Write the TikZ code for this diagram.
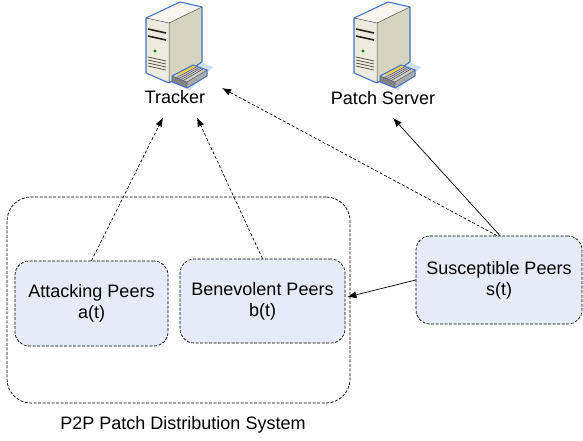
\documentclass[tikz,border=0pt]{standalone}
\usepackage{fontspec}
\setmainfont{Liberation Sans}
\usetikzlibrary{arrows.meta,positioning,calc}
\definecolor{peerfill}{RGB}{230,236,247}
\definecolor{srvblue}{RGB}{68,114,196}
\definecolor{srvfront}{RGB}{236,236,222}
\definecolor{srvside}{RGB}{212,212,192}
\definecolor{srvtop}{RGB}{247,247,240}
\definecolor{devtop}{RGB}{205,205,205}
\definecolor{devside}{RGB}{130,130,130}
\definecolor{devshadow}{RGB}{205,222,243}
\definecolor{devstripe}{RGB}{245,200,60}

\tikzset{
  server/.pic={
    % light shadow behind the network box
    \fill[devshadow] (28,80) -- (54,60) -- (73,67) -- (50,90) -- cycle;
    % tower faces
    \fill[srvtop] (6,18) -- (29,23) -- (62,7) -- (40,2) -- cycle;
    \fill[srvfront] (6,18) -- (29,23) -- (29,83) -- (6,73) -- cycle;
    \fill[srvside] (29,23) -- (62,7) -- (62,62) -- (29,83) -- cycle;
    \draw[black!70, line width=0.5pt] (6,18) -- (29,23) -- (62,7) (29,23) -- (29,83);
    % slots, button and vents on the front
    \draw[black!85, line width=1.6pt] (8,29) -- (26,33) (8,36) -- (26,40);
    \fill[green!50!black] (15,51) circle (1.6);
    \foreach \v in {57,60,63,66} {
      \draw[black!75, line width=0.7pt] (8,\v) -- (26,\v+4);
    }
    \draw[srvblue, line width=1.1pt, line join=round]
      (6,18) -- (40,2) -- (62,7) -- (62,62) -- (29,83) -- (6,73) -- cycle;
    % network box
    \fill[devtop] (32,76) -- (53,65) -- (67,70) -- (47,82) -- cycle;
    \fill[devstripe] (36,74) -- (53,65) -- (56,66) -- (39,75) -- cycle;
    \foreach \u in {0.3,0.45,0.6,0.75} {
      \draw[black!70, line width=0.5pt] ($(32,76)!\u!(47,82)$) -- ($(53,65)!\u!(67,70)$);
    }
    \fill[devside] (32,76) -- (47,82) -- (47,88) -- (32,82) -- cycle;
    \fill[devside!70] (47,82) -- (67,70) -- (67,76) -- (47,88) -- cycle;
    \draw[srvblue, line width=1pt, line join=round]
      (32,76) -- (53,65) -- (67,70) -- (67,76) -- (47,88) -- (32,82) -- cycle;
    \draw[black!70, line width=0.4pt] (32,76) -- (47,82) -- (67,70) (47,82) -- (47,88);
  }
}

\begin{document}
\begin{tikzpicture}[x=1pt, y=-1pt, font=\fontsize{18}{21}\selectfont, line width=0.7pt,
  >={Latex[length=9pt,width=7pt]},
  peer/.style={rectangle, rounded corners=14pt, draw=black, dash pattern=on 3pt off 1.5pt, fill=peerfill, align=center, inner sep=0pt},
  group/.style={rectangle, rounded corners=24pt, draw=black, dash pattern=on 3pt off 1.5pt},
  lbl/.style={inner sep=2pt},
  dashedarrow/.style={->, dash pattern=on 3pt off 2pt}
]
\useasboundingbox (0,0) rectangle (583,441);

% servers
\pic at (140,0) {server};
\pic at (348,0) {server};
\node[lbl] (tracker) at (175,97) {Tracker};
\node[lbl] (patch) at (383,98) {Patch Server};

% peer groups
\node[group, minimum width=343pt, minimum height=206pt] (sys) at (178.5,300) {};
\node[lbl] (syslabel) at (183,425) {P2P Patch Distribution System};
\node[peer, minimum width=153pt, minimum height=85pt] (att) at (91.5,303.5) {Attacking Peers\\a(t)};
\node[peer, minimum width=165pt, minimum height=84pt] (ben) at (262.5,301) {Benevolent Peers\\b(t)};
\node[peer, minimum width=166pt, minimum height=88pt] (sus) at (499,280) {Susceptible Peers\\s(t)};

% connections
\draw[dashedarrow] (att.north) -- ([xshift=-12pt,yshift=-11.5pt]tracker.south);
\draw[dashedarrow] (ben.north) -- ([xshift=22pt,yshift=-11.5pt]tracker.south);
\draw[dashedarrow] ([xshift=-2pt]sus.north) -- ([xshift=14.5pt]tracker.north east);
\draw[->] ([xshift=1pt]sus.north) -- ([xshift=10pt,yshift=-11pt]patch.south);
\draw[->] (sus.west) -- ([xshift=2pt,yshift=4pt]ben.east);
\end{tikzpicture}
\end{document}
